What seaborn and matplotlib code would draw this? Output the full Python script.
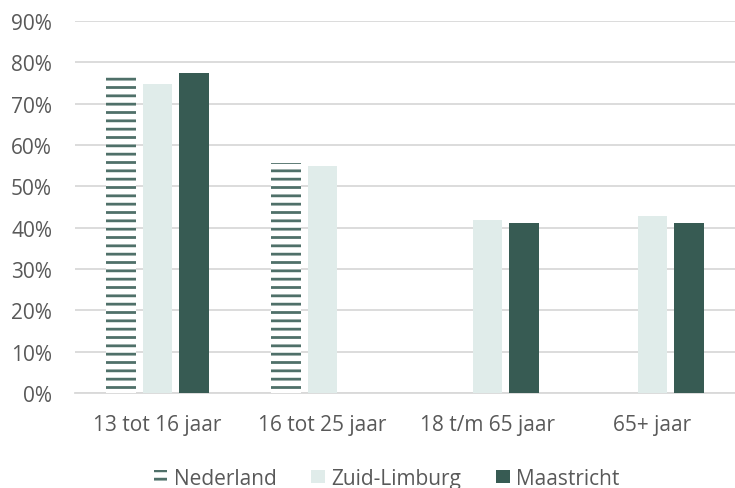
import numpy as np
import pandas as pd
import matplotlib
matplotlib.use("Agg")
import matplotlib.pyplot as plt
import seaborn as sns
from matplotlib.ticker import PercentFormatter

categories = ["13 tot 16 jaar", "16 tot 25 jaar", "18 t/m 65 jaar", "65+ jaar"]
series = ["Nederland", "Zuid-Limburg", "Maastricht"]
nederland = [76.7, 55.6, np.nan, np.nan]
zuid_limburg = [74.8, 54.9, 41.9, 42.8]
maastricht = [77.4, np.nan, 41.1, 41.1]
yticks = [0, 10, 20, 30, 40, 50, 60, 70, 80, 90]

df = pd.DataFrame({
    "Leeftijd": categories * 3,
    "Regio": sum([[s] * len(categories) for s in series], []),
    "Waarde": nederland + zuid_limburg + maastricht,
})

sns.set_theme(style="white")
plt.rcParams["font.family"] = ["Open Sans", "DejaVu Sans"]
plt.rcParams["hatch.linewidth"] = 2.0

dark = "#375b53"
light = "#e0ecea"
stripe = "#4f7069"
grey_text = "#595959"
fs = 15

fig = plt.figure(figsize=(7.35, 4.89), dpi=100)
ax = fig.add_axes([75 / 735, 1 - 394 / 489, 1 - 75 / 735, (394 - 22) / 489])

palette = {"Nederland": "white", "Zuid-Limburg": light, "Maastricht": dark}
sns.barplot(data=df, x="Leeftijd", y="Waarde", hue="Regio", order=categories,
            hue_order=series, palette=palette, width=0.67, gap=0.19,
            saturation=1, ax=ax, zorder=3, legend=True)

# Nederland bars get horizontal stripes
for container, name in zip(ax.containers, series):
    for bar in container:
        bar.set_linewidth(0)
        if name == "Nederland":
            bar.set_hatch("--")
            bar.set_edgecolor(stripe)
            bar.set_facecolor("white")

ax.set_ylim(0, 90)
ax.set_yticks(yticks)
ax.yaxis.set_major_formatter(PercentFormatter(decimals=0))
ax.set_xlim(-0.5, 3.5)
ax.set_xlabel("")
ax.set_ylabel("")
ax.grid(axis="y", color="#d9d9d9", linewidth=1.3, zorder=0)
for s in ["top", "right", "left"]:
    ax.spines[s].set_visible(False)
ax.spines["bottom"].set_color("#d9d9d9")
ax.spines["bottom"].set_linewidth(1.3)
ax.tick_params(axis="both", length=0, labelsize=fs, labelcolor=grey_text)
ax.tick_params(axis="x", pad=15)
ax.tick_params(axis="y", pad=16.5)

handles, labels = ax.get_legend_handles_labels()
for h in handles:
    h.set_linewidth(0)
handles[0].set_hatch("--")
handles[0].set_edgecolor(stripe)
handles[0].set_facecolor("white")
ax.legend(handles, labels, loc="center", bbox_to_anchor=(0.472, -0.230),
          ncol=3, frameon=False, fontsize=fs, labelcolor=grey_text,
          handlelength=0.67, handleheight=0.62, handletextpad=0.29,
          columnspacing=1.68, borderaxespad=0, borderpad=0)

fig.savefig("out.png", dpi=100)
